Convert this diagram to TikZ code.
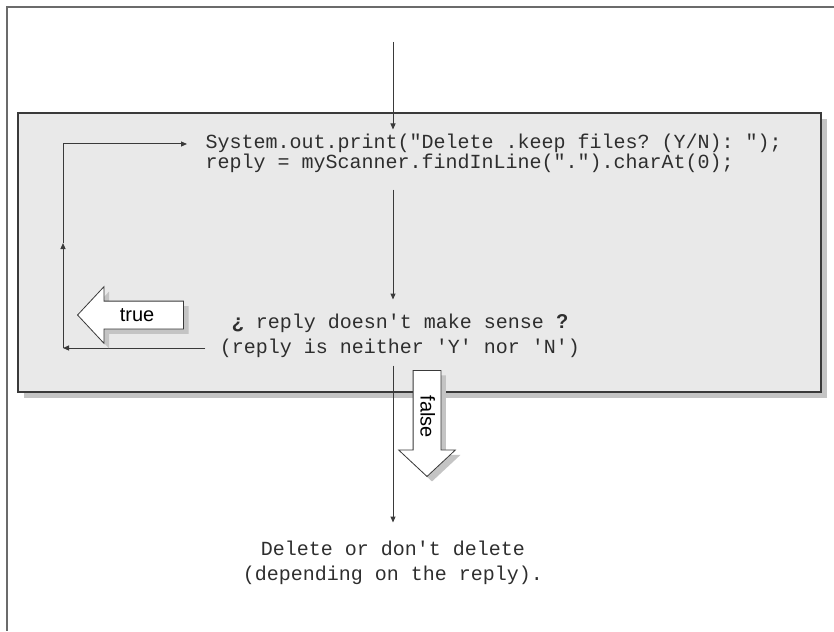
\documentclass[tikz,border=0pt]{standalone}
\usepackage{fontspec}
\setmainfont{Liberation Sans}
\setsansfont{Liberation Sans}
\setmonofont{Liberation Mono}
\usetikzlibrary{arrows.meta, shapes.arrows, shadows}
\definecolor{cpanel}{HTML}{E9E9E9}
\definecolor{cshadow}{HTML}{C4C4C4}
\definecolor{cline}{HTML}{3A3A3A}
\definecolor{ctext}{HTML}{2E2E2E}
\tikzset{
  every picture/.style={line width=1pt},
  code/.style={font=\ttfamily\fontsize{20}{24}\selectfont, text=ctext, inner sep=0pt,
    text height=14pt, text depth=4pt},
  flow/.style={-{Triangle[length=6pt, width=5pt]}, draw=cline},
  panel/.style={draw=cline, fill=cpanel, line width=1.5pt},
  branch/.style={single arrow, draw=cline, fill=white, line width=0.8pt,
    font=\sffamily\fontsize{20}{24}\selectfont, text height=13pt, text depth=0pt,
    inner xsep=4pt, inner ysep=7pt, single arrow head extend=14.5pt,
    single arrow tip angle=94, minimum height=106pt,
    drop shadow={shadow xshift=5pt, shadow yshift=-5pt, fill=cshadow, opacity=1}},
}
\begin{document}
\begin{tikzpicture}[x=1pt, y=-1pt]
  \useasboundingbox (0,0) rectangle (834,631);
  \draw[draw=cline!75, line width=1.5pt] (834,7) -- (7,7) -- (7,631);
  % loop body
  \fill[cshadow] (24,119) rectangle (827,398);
  \draw[panel] (18,113) rectangle (821,392);
  \node[code, anchor=base west] (print) at (205,149) {System.out.print("Delete .keep files? (Y/N): ");};
  \node[code, anchor=base west] (read) at (205,168) {reply = myScanner.findInLine(".").charAt(0);};
  \node[code, anchor=base] (cond) at (400,328) {{\sffamily\bfseries ¿} reply doesn't make sense {\sffamily\bfseries ?}};
  \node[code, anchor=base] (why) at (400,353) {(reply is neither 'Y' nor 'N')};
  \node[code, anchor=base] (act) at (393,555) {Delete or don't delete};
  \node[code, anchor=base] (act2) at (393,580) {(depending on the reply).};
  \coordinate (entry) at (393,42);
  \coordinate (loop) at (63,243);
  \draw[flow, shorten >=5pt] (entry) -- (entry |- print.north);
  \draw[flow, shorten <=17pt, shorten >=14pt] (entry |- read.south) -- (entry |- cond.north);
  \draw[flow, shorten <=8pt, shorten >=18pt] (entry |- why.south) -- (entry |- act.north);
  \draw[flow, shorten <=14pt] (why.west) -- (why.west -| loop);
  \draw[flow] (why.west -| loop) -- (loop);
  \draw[flow, shorten >=18pt] (loop) -- (print.west -| loop) -- (print.west);
  % branch labels
  \node[branch, shape border rotate=180, anchor=tip] (yes) at (77,315) {true};
  \node[branch, rotate=-90, anchor=tip] (no) at (427,477) {false};
\end{tikzpicture}
\end{document}
